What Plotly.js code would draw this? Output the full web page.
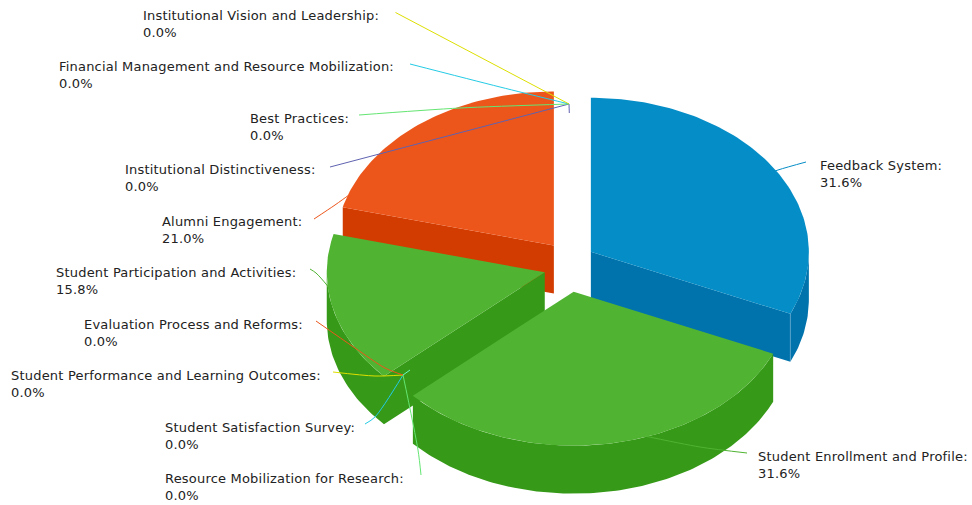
<!DOCTYPE html>
<html>
<head>
<meta charset="utf-8">
<script src="https://cdn.plot.ly/plotly-3.0.1.min.js"></script>
<style>html,body{margin:0;padding:0;background:#fff}#chart{width:972px;height:505px}
.annotation-text{letter-spacing:0.2px}</style>
</head>
<body>
<div id="chart"></div>
<script>
// ---- data ----
const categories = [
  "Feedback System", "Student Enrollment and Profile", "Resource Mobilization for Research",
  "Student Satisfaction Survey", "Student Performance and Learning Outcomes",
  "Evaluation Process and Reforms", "Student Participation and Activities", "Alumni Engagement",
  "Institutional Distinctiveness", "Best Practices",
  "Financial Management and Resource Mobilization", "Institutional Vision and Leadership"
];
const values = [31.6, 31.6, 0, 0, 0, 0, 15.8, 21.0, 0, 0, 0, 0];
const colors = ["#058DC7","#50B432","#64E572","#24CBE5","#DDDF00","#ED561B","#50B432","#ED561B","#5F62B0","#64E572","#24CBE5","#DDDF00"];
const wallColors = ["#0073AD","#369A18","#4ACB58","#0AB1CB","#C3C500","#D33C01","#369A18","#D33C01","#4548A0","#4ACB58","#0AB1CB","#C3C500"];

// ---- label placement (left edge, vertical middle of the two text lines) ----
const labelX = [820, 758, 165, 165, 11, 84, 56, 162, 125, 250, 59, 143];
const labelY = [173.5, 464.5, 486.5, 435.5, 383.5, 332.5, 280.5, 229.5, 178, 126.5, 75, 23.5];

// ---- connector paths, one per category ----
const leaderX = [
  [750,778,806],[640,700,747],[421,418,403],[365,375,403],[333,375,403],[316,355,385,403],
  [310,316,326,338],[314,335,349,362],[330,569,569.3],[359,460,569],[410,500,569],[395.5,569]
];
const leaderY = [
  [180,170,162],[435,447,453],[475,450,375],[424,417,375],[372,376,375],[321,348,368,375],
  [269,273,284,300],[219,205,195,186],[167,104,113],[115,108,104],[64,87,104],[12.5,104]
];
const stubX = [403, 410];
const stubY = [375, 370];

// ---- pie geometry ----
const cx = 569.5, cy = 266, rx = 218, ry = 154, depth = 48, explodeX = 25.5, explodeY = 26, arcStep = 1;
const rad = d => d * Math.PI / 180;
const total = values.reduce((a, b) => a + b, 0);

const ptAt = (s, deg, dz) => [s.ax + rx * Math.sin(rad(deg)), s.ay - ry * Math.cos(rad(deg)) + (dz || 0)];
function arc(s, a0, a1, dz) {
  const out = [];
  for (let d = a0; d < a1; d += arcStep) out.push(ptAt(s, d, dz));
  out.push(ptAt(s, a1, dz));
  return out;
}

let acc = 0;
const slices = values.map((v, i) => {
  const a0 = acc / total * 360;
  acc += v;
  const a1 = acc / total * 360;
  const mid = (a0 + a1) / 2;
  return { i, v, a0, a1, mid, ax: cx + explodeX * Math.sin(rad(mid)), ay: cy - explodeY * Math.cos(rad(mid)) };
});

const traces = [];
function poly(pts, color, stroke) {
  traces.push({
    type: "scatter", mode: "lines", x: pts.map(p => p[0]), y: pts.map(p => p[1]),
    fill: "toself", fillcolor: color, line: { width: stroke || 0, color }, hoverinfo: "skip"
  });
}
function line(xs, ys, color, shape, width) {
  traces.push({
    type: "scatter", mode: "lines", x: xs, y: ys,
    line: { color, width: width || 1, shape: shape || "spline", smoothing: 0.8 }, hoverinfo: "skip"
  });
}

const drawn = slices.filter(s => s.v > 0).sort((p, q) => Math.cos(rad(q.mid)) - Math.cos(rad(p.mid)));
drawn.forEach(s => {
  const wall = wallColors[s.i], apex = [s.ax, s.ay], apexLow = [s.ax, s.ay + depth];
  const startCut = Math.sin(rad(s.a0)) < -1e-6, endCut = Math.sin(rad(s.a1)) > 1e-6;
  const w0 = Math.max(s.a0, 90), w1 = Math.min(s.a1, 270);
  const hasWall = w1 > w0;
  // all visible side faces of a slice are one outline, so no seams appear
  if (hasWall && startCut) {
    poly([apex, apexLow].concat(arc(s, w0, w1, depth), arc(s, w0, w1, 0).reverse()), wall);
  } else if (hasWall && endCut && s.a1 < 180) {
    poly([apex, apexLow].concat(arc(s, w0, w1, depth).reverse(), arc(s, w0, w1, 0)), wall);
  } else if (hasWall) {
    poly(arc(s, w0, w1, 0).concat(arc(s, w0, w1, depth).reverse()), wall);
  } else if (startCut) {
    poly([apex, ptAt(s, s.a0), ptAt(s, s.a0, depth), apexLow], wall);
  }
  if (endCut && s.a1 < 180) {
    const t = ptAt(s, s.a1), b = ptAt(s, s.a1, depth);
    line([t[0], b[0]], [t[1], b[1]], "rgba(255,255,255,0.35)", "linear");
  }
  // connector belongs between the wall and the top face
  line(leaderX[s.i], leaderY[s.i], colors[s.i]);
  // top face
  poly([apex].concat(arc(s, s.a0, s.a1, 0)), colors[s.i]);
});

// zero-value slices only have connectors, drawn over everything
slices.filter(s => s.v === 0).forEach(s => line(leaderX[s.i], leaderY[s.i], colors[s.i], s.i === 8 ? "linear" : "spline"));
line(stubX, stubY, "#6AF9C4", "linear");

const annotations = categories.map((c, i) => ({
  x: labelX[i], y: labelY[i], xref: "x", yref: "y", xanchor: "left", yanchor: "middle", align: "left",
  text: c + ":<br>" + values[i].toFixed(1) + "%", showarrow: false, borderpad: 0, borderwidth: 0,
  font: { family: "DejaVu Sans, sans-serif", size: 13, color: "#222222" }
}));

Plotly.newPlot("chart", traces, {
  width: 972, height: 505, margin: { l: 0, r: 0, t: 0, b: 0 },
  paper_bgcolor: "#fff", plot_bgcolor: "#fff", showlegend: false, hovermode: false,
  xaxis: { range: [0, 972], visible: false, fixedrange: true },
  yaxis: { range: [505, 0], visible: false, fixedrange: true },
  annotations
}, { displayModeBar: false, staticPlot: true });
</script>
</body>
</html>
